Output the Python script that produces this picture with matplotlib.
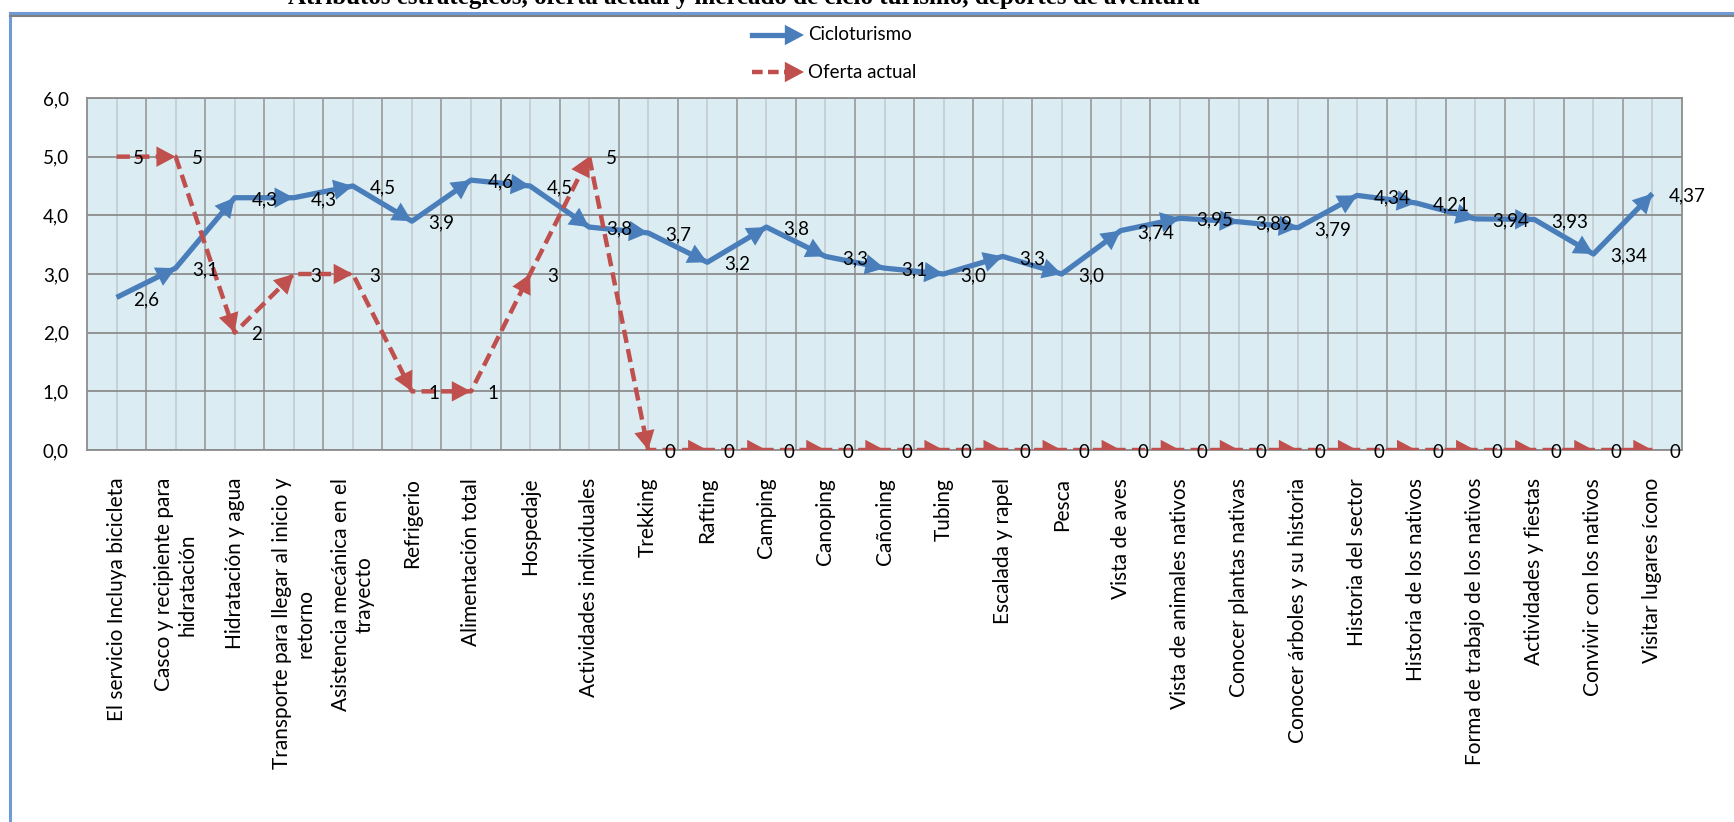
import matplotlib
matplotlib.use("Agg")
import matplotlib.pyplot as plt
from matplotlib.patches import FancyArrowPatch
from matplotlib.lines import Line2D
from matplotlib.ticker import FuncFormatter, MultipleLocator

ATRIBUTOS = [
    "El servicio Incluya bicicleta",
    "Casco y recipiente para\nhidratación",
    "Hidratación y agua",
    "Transporte para llegar al inicio y\nretorno",
    "Asistencia mecánica en el\ntrayecto",
    "Refrigerio",
    "Alimentación total",
    "Hospedaje",
    "Actividades individuales",
    "Trekking",
    "Rafting",
    "Camping",
    "Canoping",
    "Cañoning",
    "Tubing",
    "Escalada y rapel",
    "Pesca",
    "Vista de aves",
    "Vista de animales nativos",
    "Conocer plantas nativas",
    "Conocer árboles y su historia",
    "Historia del sector",
    "Historia de los nativos",
    "Forma de trabajo de los nativos",
    "Actividades y fiestas",
    "Convivir con los nativos",
    "Visitar lugares ícono",
]

CICLOTURISMO = [2.6, 3.1, 4.3, 4.3, 4.5, 3.9, 4.6, 4.5, 3.8, 3.7, 3.2, 3.8, 3.3, 3.1,
                3.0, 3.3, 3.0, 3.74, 3.95, 3.89, 3.79, 4.34, 4.21, 3.94, 3.93, 3.34, 4.37]
DECIMALES_CICLO = [1] * 17 + [2] * 10

OFERTA_ACTUAL = [5, 5, 2, 3, 3, 1, 1, 3, 5] + [0] * 18

TITULO = "Atributos estratégicos, oferta actual y mercado de ciclo turismo, deportes de aventura"

AZUL = "#4a7ebb"
ROJO = "#c0504d"
FUENTE = "Lato"
PUNTA = "-|>,head_length=0.6,head_width=0.32"

W, H = 1734, 822


def px(x, y):
    # pixeles (desde arriba a la izquierda) -> coordenadas de figura
    return x / W, 1 - y / H


def etiqueta(v, dec):
    return f"{v:.{dec}f}".replace(".", ",")


fig = plt.figure(figsize=(W / 100, H / 100), dpi=100)
ax = fig.add_axes([87 / W, 1 - 450 / H, (1682 - 87) / W, (450 - 98) / H])
ax.set_facecolor("#dbedf3")

xs = list(range(len(ATRIBUTOS)))

# lineas
ax.plot(xs, CICLOTURISMO, color=AZUL, lw=3.8, solid_capstyle="butt", zorder=3)
ax.plot(xs, OFERTA_ACTUAL, color=ROJO, lw=3.2, linestyle=(0, (3.0, 1.4)),
        dash_capstyle="butt", zorder=4)

# punta de flecha al final de cada tramo
for serie, color, z in [(CICLOTURISMO, AZUL, 3.5), (OFERTA_ACTUAL, ROJO, 4.5)]:
    for i in range(1, len(serie)):
        flecha = FancyArrowPatch((xs[i - 1], serie[i - 1]), (xs[i], serie[i]),
                                 arrowstyle=PUNTA, mutation_scale=23, lw=0, color=color,
                                 shrinkA=0, shrinkB=0, zorder=z)
        ax.add_patch(flecha)

# etiquetas de datos
for x, v, d in zip(xs, CICLOTURISMO, DECIMALES_CICLO):
    ax.annotate(etiqueta(v, d), (x, v), xytext=(12, -1.5), textcoords="offset points",
                ha="left", va="center", fontsize=13.5, family=FUENTE, zorder=6)
for x, v in zip(xs, OFERTA_ACTUAL):
    ax.annotate(str(v), (x, v), xytext=(12, -1.5), textcoords="offset points",
                ha="left", va="center", fontsize=13.5, family=FUENTE, zorder=6)

# ejes y rejilla
ax.set_xlim(-0.5, len(ATRIBUTOS) - 0.5)
ax.set_ylim(0, 6)
ax.yaxis.set_major_locator(MultipleLocator(1))
ax.yaxis.set_major_formatter(FuncFormatter(lambda v, p: etiqueta(v, 1)))
ax.set_xticks(xs)
ax.set_xticks([i + 0.5 for i in xs[:-1]], minor=True)
ax.set_xticklabels(ATRIBUTOS, rotation=90, ha="center", va="top",
                   multialignment="center", fontsize=15, family=FUENTE)
ax.tick_params(axis="both", length=0, which="both")
ax.tick_params(axis="x", pad=20)
ax.tick_params(axis="y", pad=13, labelsize=13.5)
for t in ax.get_yticklabels():
    t.set_family(FUENTE)

ax.grid(axis="y", color="#8c8c8c", lw=1.3, zorder=1)
ax.grid(axis="x", which="major", color="#c4ccd0", lw=1.2, zorder=1)
ax.grid(axis="x", which="minor", color="#9a9a9a", lw=1.2, zorder=1)
ax.set_axisbelow(True)
for s in ax.spines.values():
    s.set_color("#8c8c8c")
    s.set_linewidth(1.3)

# leyenda
for (y, color, estilo, lw, texto) in [(35, AZUL, "-", 3.8, "Cicloturismo"),
                                      (72, ROJO, (0, (2.4, 1.2)), 3.2, "Oferta actual")]:
    fig.add_artist(Line2D([px(752, y)[0], px(790, y)[0]], [px(752, y)[1]] * 2,
                          color=color, lw=lw, linestyle=estilo, dash_capstyle="butt",
                          transform=fig.transFigure))
    fig.add_artist(FancyArrowPatch(px(770, y), px(804, y), transform=fig.transFigure,
                                   arrowstyle=PUNTA, mutation_scale=23, lw=0, color=color,
                                   shrinkA=0, shrinkB=0))
    fig.text(*px(808, y), texto, ha="left", va="center", fontsize=13.5, family=FUENTE)

# marco y titulo
fig.add_artist(Line2D([px(10, 0)[0]] * 2, [px(10, 13)[1], 0], color="#6f9ad6", lw=2.2,
                      transform=fig.transFigure))
fig.add_artist(Line2D([px(10, 13)[0], 1], [px(10, 13)[1]] * 2, color="#6f9ad6", lw=2.2,
                      transform=fig.transFigure))
fig.add_artist(Line2D([px(10, 16)[0], 1], [px(10, 16)[1]] * 2, color="#808080", lw=1.5,
                      transform=fig.transFigure))
fig.text(*px(1200, 4), TITULO, ha="right", va="baseline", fontsize=18,
         family="Liberation Serif", weight="bold")

fig.savefig("out.png", dpi=100, facecolor="white")
